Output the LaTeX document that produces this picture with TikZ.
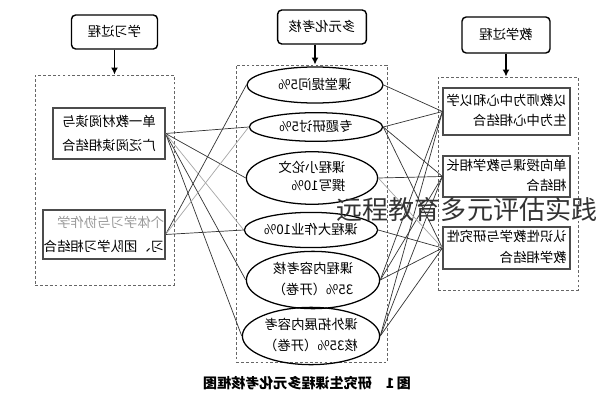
\documentclass[tikz,border=0pt]{standalone}
\usepackage{fontspec}
\newfontfamily\cjk{Noto Sans CJK SC}
\usetikzlibrary{shapes.geometric, arrows.meta}
\newcommand{\flip}[2][1.2]{\reflectbox{\renewcommand{\arraystretch}{#1}\begin{tabular}{@{}l@{}}#2\end{tabular}}}
\tikzset{
	headbox/.style={draw, rounded corners=3pt, line width=1pt, minimum width=2.15cm, minimum height=0.86cm, inner sep=0pt, font=\cjk\fontsize{9.5}{12}\selectfont},
	itembox/.style={draw=black!70, line width=0.8pt, inner sep=0pt, font=\cjk\fontsize{9.5}{12}\selectfont},
	evalnode/.style={ellipse, draw, line width=0.9pt, inner sep=0pt, font=\cjk\fontsize{9.5}{12}\selectfont},
	region/.style={draw=black!60, dash pattern=on 2pt off 1.5pt, line width=0.6pt, inner sep=0pt},
	link/.style={black!80, line width=0.5pt},
	faint/.style={black!35, line width=0.5pt}
}

\begin{document}
\begin{tikzpicture}[x=0.025cm, y=-0.025cm]
	\useasboundingbox (0,0) rectangle (596,400);
	%Regions
		\node[region, minimum width=3.475cm, minimum height=5.25cm] (regl) at (104.5,180) {};
		\node[region, minimum width=3.775cm, minimum height=7.425cm] (regm) at (311.5,213.5) {};
		\node[region, minimum width=3.5cm, minimum height=5.325cm] (regr) at (508,183.5) {};
	%Headers
		\node[headbox, minimum height=0.85cm] (hl) at (114.5,32) {\flip{学习过程}};
		\node[headbox, minimum width=2.22cm, minimum height=0.85cm] (hm) at (322,27) {\flip{多元化考核}};
		\node[headbox, minimum width=2.2cm, minimum height=0.9cm] (hr) at (506,35) {\flip{教学过程}};
	%Learning process
		\node[itembox, minimum width=2.8cm, minimum height=1.275cm] (l1) at (109,133.5) {\flip[1.45]{单一教材阅读与\\广泛阅读相结合}};
		\node[itembox, minimum width=3.05cm, minimum height=1.225cm] (l2) at (104,234.5) {\flip[1.45]{\textcolor{black!40}{个体学习与协作学}\\习、团队学习相结合}};
	%Assessment
		\node[evalnode, minimum width=3.4cm, minimum height=0.9cm] (e1) at (315,85) {\flip{课堂提问5\%}};
		\node[evalnode, minimum width=3.33cm, minimum height=0.7cm] (e2) at (316,127) {\flip{专题研讨5\%}};
		\node[evalnode, minimum width=3.28cm, minimum height=1.0cm] (e3) at (312,178) {\flip[1.1]{课程小论文\\撰写10\%}};
		\node[evalnode, minimum width=3.33cm, minimum height=0.88cm] (e4) at (311,230) {\flip{课程大作业10\%}};
		\node[evalnode, minimum width=3.33cm, minimum height=0.95cm] (e5) at (313,280) {\flip{课程内容考核\\35\%（开卷）}};
		\node[evalnode, minimum width=3.43cm, minimum height=1.05cm] (e6) at (311,336) {\flip{课外拓展内容考\\核35\%（开卷）}};
	%Teaching process
		\node[itembox, minimum width=3.175cm, minimum height=1.175cm] (r1) at (506.5,111.5) {\flip{以教师为中心和以学\\生为中心相结合}};
		\node[itembox, minimum width=3.175cm, minimum height=1.025cm] (r2) at (506.5,176.5) {\flip{单向授课与教学相长\\相结合}};
		\node[itembox, minimum width=3.175cm, minimum height=1.05cm] (r3) at (506.5,248) {\flip{认识性教学与研究性\\教学相结合}};
	%Header arrows
		\draw[-{Latex[length=5pt,width=5pt]}, line width=1pt] (hl.south) -- (hl.south |- regl.north);
		\draw[-{Latex[length=5pt,width=5pt]}, line width=1pt] (hm.south -| e1.north) -- (e1.north |- regm.north);
		\draw[-{Latex[length=5pt,width=5pt]}, line width=1pt] (hr.south) -- (hr.south |- regr.north);
	%Left links
		\foreach \e in {e2,e3,e5,e6}
			\draw[link] (l1.east) -- (\e.west);
		\draw[faint] (l1.east) -- (e4.west);
		\draw[link] (l2.east) -- (e1.west);
		\draw[faint] (l2.east) -- (e2.west);
		\draw[link] (l2.east) -- (e4.west);
	%Right links
		\foreach \e/\r in {e1/r1,e2/r1,e2/r2,e2/r3,e3/r2,e4/r3,e5/r1,e5/r2,e5/r3,e6/r1,e6/r2,e6/r3}
			\draw[link] (\e.east) -- (\r.west);
		\draw[faint] (e3.east) -- (r3.west);
	%Caption
		\node[font=\cjk\bfseries\fontsize{10}{12}\selectfont] (cap) at (307,383) {\reflectbox{图\,1\quad 研究生课程多元化考核框图}};
	%Overlay
		\node[font=\cjk\fontsize{18.5}{20}\selectfont, text=black!80] (wm) at (467,210) {远程教育多元评估实践};
\end{tikzpicture}
\end{document}
